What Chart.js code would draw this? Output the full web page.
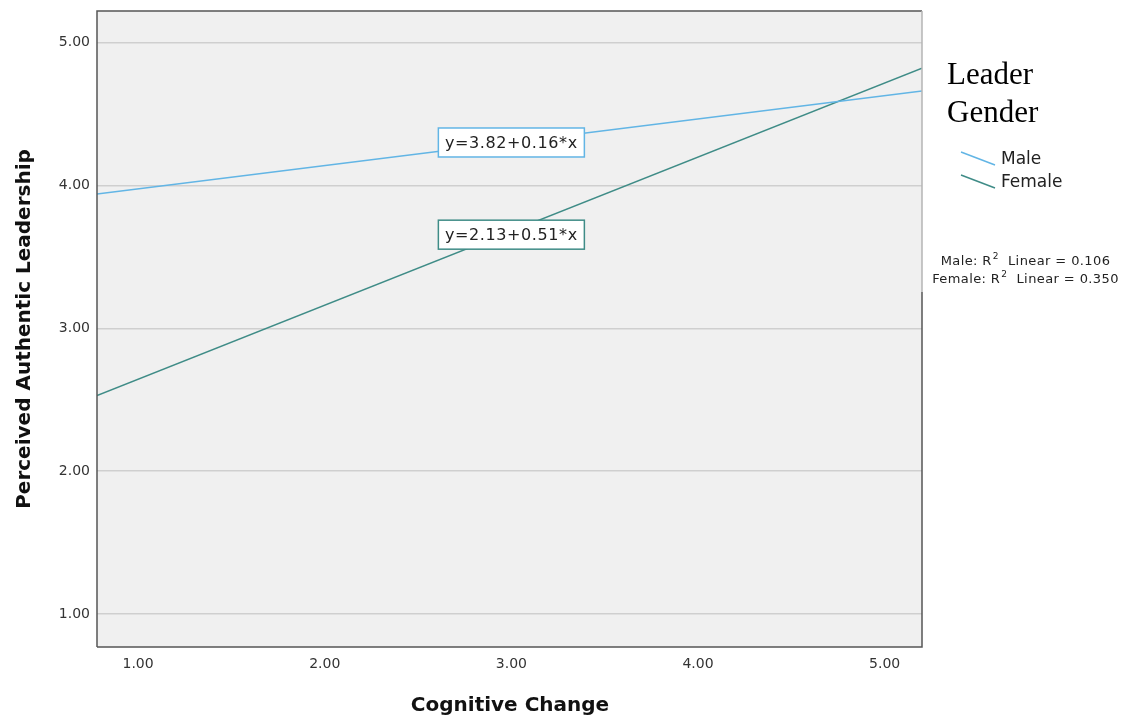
<!DOCTYPE html>
<html>
<head>
<meta charset="utf-8">
<script src="https://cdn.jsdelivr.net/npm/chart.js@4.4.1/dist/chart.umd.min.js"></script>
<style>
  html, body { margin: 0; padding: 0; background: #fff; }
  #wrap { width: 1140px; height: 724px; position: relative; }
</style>
</head>
<body>
<div id="wrap"><canvas id="myChart"></canvas></div>
<script>
// Данные: концы линий регрессии
const xEnds = [0.78, 5.2];
const maleY = [3.94, 4.66];
const femaleY = [2.53, 4.82];
const tickValues = [1, 2, 3, 4, 5];
const seriesNames = ['Male', 'Female'];
const equations = ['y=3.82+0.16*x', 'y=2.13+0.51*x'];
const rNames = ['Male', 'Female'];
const rValues = ['0.106', '0.350'];

const maleColor = '#62b5e5';
const femaleColor = '#3f8c87';
const font = '"DejaVu Sans", sans-serif';

// фон области графика и рамка
const plotBg = {
  id: 'plotBg',
  beforeDraw(chart) {
    const { ctx, chartArea: a } = chart;
    ctx.save();
    ctx.fillStyle = '#f0f0f0';
    ctx.fillRect(a.left, a.top, a.right - a.left, a.bottom - a.top);
    ctx.restore();
  },
  afterDatasetsDraw(chart) {
    const { ctx, chartArea: a, scales } = chart;
    ctx.save();
    ctx.lineWidth = 1.5;
    ctx.strokeStyle = '#555';
    ctx.beginPath();
    ctx.moveTo(a.left, a.bottom);
    ctx.lineTo(a.left, a.top);
    ctx.lineTo(a.right, a.top);
    ctx.moveTo(a.left, a.bottom);
    ctx.lineTo(a.right, a.bottom);
    ctx.lineTo(a.right, 292);
    ctx.stroke();
    ctx.strokeStyle = '#b5b5b5';
    ctx.beginPath();
    ctx.moveTo(a.right, 292);
    ctx.lineTo(a.right, a.top);
    ctx.stroke();

    // подписи уравнений
    const boxes = [
      { text: equations[0], x: 3.0, y: 4.30, color: maleColor },
      { text: equations[1], x: 3.0, y: 3.655, color: femaleColor }
    ];
    ctx.font = '16px ' + font;
    ctx.textBaseline = 'middle';
    ctx.textAlign = 'center';
    boxes.forEach(b => {
      const cx = scales.x.getPixelForValue(b.x);
      const cy = scales.y.getPixelForValue(b.y);
      const w = 146, h = 29;
      ctx.fillStyle = '#fff';
      ctx.fillRect(cx - w / 2, cy - h / 2, w, h);
      ctx.lineWidth = 1.5;
      ctx.strokeStyle = b.color;
      ctx.strokeRect(cx - w / 2, cy - h / 2, w, h);
      ctx.fillStyle = '#222';
      ctx.letterSpacing = '0.6px';
      ctx.fillText(b.text, cx, cy + 1);
      ctx.letterSpacing = '0px';
    });
    ctx.restore();
  },
  afterDraw(chart) {
    const { ctx } = chart;
    ctx.save();
    // заголовки осей
    ctx.fillStyle = '#111';
    ctx.font = 'bold 20px ' + font;
    ctx.textAlign = 'center';
    ctx.textBaseline = 'middle';
    ctx.fillText('Cognitive Change', 510, 706);
    ctx.translate(25, 329);
    ctx.rotate(-Math.PI / 2);
    ctx.fillText('Perceived Authentic Leadership', 0, 0);
    ctx.restore();

    // легенда
    ctx.save();
    ctx.fillStyle = '#000';
    ctx.font = '31px "Liberation Serif", "Times New Roman", serif';
    ctx.textAlign = 'left';
    ctx.textBaseline = 'alphabetic';
    ctx.fillText('Leader', 947, 84);
    ctx.fillText('Gender', 947, 122);
    const colors = [maleColor, femaleColor];
    seriesNames.forEach((name, i) => {
      const y0 = 152 + i * 23;
      ctx.strokeStyle = colors[i];
      ctx.lineWidth = 1.5;
      ctx.beginPath();
      ctx.moveTo(961, y0);
      ctx.lineTo(995, y0 + 13);
      ctx.stroke();
      ctx.fillStyle = '#222';
      ctx.font = '17px ' + font;
      ctx.textBaseline = 'middle';
      ctx.fillText(name, 1001, y0 + 8);
    });

    // строки R² с надстрочной двойкой
    ctx.fillStyle = '#222';
    ctx.textBaseline = 'alphabetic';
    ctx.textAlign = 'left';
    const rowsY = [265, 283];
    rNames.forEach((n, i) => {
      const p1 = n + ': R';
      const p2 = '2';
      const p3 = '  Linear = ' + rValues[i];
      ctx.font = '13px ' + font;
      ctx.letterSpacing = '0.4px';
      const w1 = ctx.measureText(p1).width;
      const w3 = ctx.measureText(p3).width;
      ctx.font = '9px ' + font;
      const w2 = ctx.measureText(p2).width;
      const total = w1 + w2 + w3;
      let x = 1025 - total / 2;
      ctx.font = '13px ' + font;
      ctx.fillText(p1, x, rowsY[i]);
      x += w1 + 1;
      ctx.font = '9px ' + font;
      ctx.fillText(p2, x, rowsY[i] - 6);
      x += w2;
      ctx.font = '13px ' + font;
      ctx.fillText(p3, x, rowsY[i]);
    });
    ctx.restore();
  }
};

const data = {
  datasets: [
    {
      label: seriesNames[0],
      data: xEnds.map((x, i) => ({ x: x, y: maleY[i] })),
      borderColor: maleColor,
      borderWidth: 1.5,
      pointRadius: 0,
      showLine: true
    },
    {
      label: seriesNames[1],
      data: xEnds.map((x, i) => ({ x: x, y: femaleY[i] })),
      borderColor: femaleColor,
      borderWidth: 1.5,
      pointRadius: 0,
      showLine: true
    }
  ]
};

const config = {
  type: 'scatter',
  data: data,
  options: {
    responsive: false,
    animation: false,
    devicePixelRatio: 1,
    layout: { padding: { top: 11, right: 218, left: 0, bottom: 0 } },
    plugins: { legend: { display: false }, tooltip: { enabled: false } },
    scales: {
      x: {
        type: 'linear',
        min: xEnds[0],
        max: xEnds[1],
        afterBuildTicks: s => { s.ticks = tickValues.map(v => ({ value: v })); },
        afterFit: s => { s.height = 77; s.paddingLeft = 0; s.paddingRight = 0; },
        grid: { display: false, drawTicks: false },
        border: { display: false },
        ticks: {
          padding: 9,
          color: '#333',
          font: { family: font, size: 14 },
          callback: v => Number(v).toFixed(2)
        }
      },
      y: {
        type: 'linear',
        min: 0.77,
        max: 5.22,
        afterBuildTicks: s => { s.ticks = tickValues.map(v => ({ value: v })); },
        afterFit: s => { s.width = 97; s.paddingTop = 0; s.paddingBottom = 0; },
        grid: { color: '#cfcfcf', lineWidth: 1.5, drawTicks: false },
        border: { display: false },
        ticks: {
          padding: 7,
          color: '#333',
          font: { family: font, size: 14 },
          callback: v => Number(v).toFixed(2)
        }
      }
    }
  },
  plugins: [plotBg]
};

const canvas = document.getElementById('myChart');
canvas.width = 1140;
canvas.height = 724;
const myChart = new Chart(canvas, config);
</script>
</body>
</html>
